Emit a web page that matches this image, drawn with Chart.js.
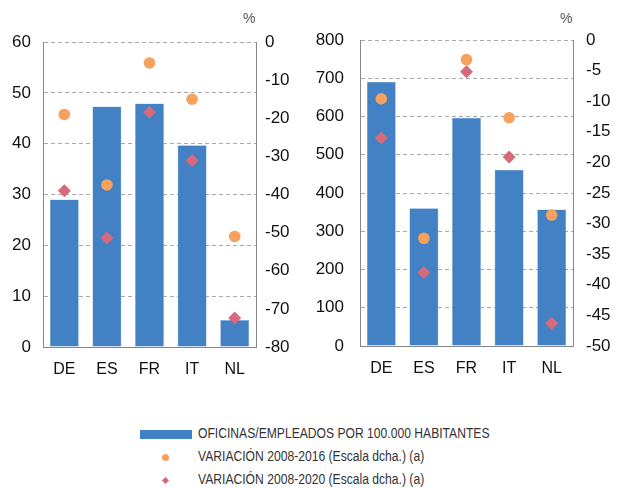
<!DOCTYPE html>
<html>
<head>
<meta charset="utf-8">
<script src="https://cdn.jsdelivr.net/npm/chart.js@4"></script>
<style>
  body { margin: 0; background: #fff; font-family: "Liberation Sans", Arial, sans-serif; }
  #wrap { position: relative; width: 617px; height: 488px; }
  .box { position: absolute; top: 2px; height: 380px; }
  .pct { position: absolute; top: 10px; font-size: 14px; color: #555; }
  #legend { position: absolute; left: 0; top: 420px; width: 617px; font-family: "Liberation Sans", Arial, sans-serif; font-size: 14px; color: #333; }
  .row { position: absolute; left: 140px; height: 20px; }
  .row span.t { position: absolute; left: 58px; top: 2px; white-space: nowrap; transform: scaleX(0.866); transform-origin: 0 50%; }
  .sw { position: absolute; }
</style>
</head>
<body>
<div id="wrap">
  <div class="box" style="left:0;width:300px"><canvas id="c1"></canvas></div>
  <div class="box" style="left:300px;width:317px"><canvas id="c2"></canvas></div>
  <div class="pct" style="left:243px">%</div>
  <div class="pct" style="left:560px">%</div>
  <div id="legend">
    <div class="row" style="top:3px">
      <div class="sw" style="left:0;top:7px;width:52px;height:9px;background:#4281c4"></div>
      <span class="t">OFICINAS/EMPLEADOS POR 100.000 HABITANTES</span>
    </div>
    <div class="row" style="top:26px">
      <div class="sw" style="left:22px;top:8px;width:7px;height:7px;border-radius:50%;background:#f7a15f"></div>
      <span class="t">VARIACIÓN 2008-2016 (Escala dcha.) (a)</span>
    </div>
    <div class="row" style="top:49px">
      <div class="sw" style="left:23px;top:9px;width:5px;height:5px;transform:rotate(45deg);background:#d6697a"></div>
      <span class="t">VARIACIÓN 2008-2020 (Escala dcha.) (a)</span>
    </div>
  </div>
</div>
<script>
const categories = ['DE', 'ES', 'FR', 'IT', 'NL']

// left panel: oficinas por 100.000 habitantes
const oficinas = [29, 47.3, 47.9, 39.7, 5.3]
const oficinasVar2016 = [-19, -37.5, -5.5, -15, -51]
const oficinasVar2020 = [-39, -51.4, -18.4, -31.1, -72.4]

// right panel: empleados por 100.000 habitantes
const empleados = [691, 360, 597, 461, 357]
const empleadosVar2016 = [-9.6, -32.4, -3.2, -12.7, -28.6]
const empleadosVar2020 = [-16, -38, -5.2, -19.1, -46.3]

const BLUE = '#4281c4'
const ORANGE = '#f7a15f'
const PINK = '#d6697a'
const numFont = { family: '"Liberation Sans", Arial, sans-serif', size: 17 }
const catFont = { family: '"Liberation Sans", Arial, sans-serif', size: 16 }

function makeChart(id, bars, var16, var20, cfg) {
  const ctx = document.getElementById(id).getContext('2d')
  return new Chart(ctx, {
    type: 'bar',
    data: {
      labels: categories,
      datasets: [
        { type: 'line', data: var20, yAxisID: 'y2', showLine: false, pointStyle: 'rectRot',
          pointRadius: 6.5, pointBackgroundColor: PINK, pointBorderWidth: 0, order: 1 },
        { type: 'line', data: var16, yAxisID: 'y2', showLine: false, pointStyle: 'circle',
          pointRadius: 5.8, pointBackgroundColor: ORANGE, pointBorderWidth: 0, order: 2 },
        { data: bars, yAxisID: 'y', backgroundColor: BLUE, borderColor: '#8fb3dd', borderWidth: 0.5,
          barPercentage: 0.68, categoryPercentage: 1, order: 3 }
      ]
    },
    options: {
      responsive: true,
      maintainAspectRatio: false,
      animation: false,
      layout: { padding: { top: cfg.top, right: 0, left: 0, bottom: 0 } },
      plugins: { legend: { display: false }, tooltip: { enabled: false } },
      scales: {
        x: {
          grid: { display: false },
          border: { display: true, color: '#888', width: 1 },
          ticks: { color: '#111', font: catFont, padding: 5 },
          afterFit: s => { s.height = cfg.xh }
        },
        y: {
          position: 'left',
          min: 0, max: cfg.yMax,
          ticks: { stepSize: cfg.yStep, color: '#111', font: numFont, padding: cfg.leftPad },
          grid: { color: '#aaa', lineWidth: 1, drawTicks: false },
          border: { display: true, color: '#888', width: 1, dash: [4, 3] },
          afterFit: s => { s.width = cfg.leftW }
        },
        y2: {
          position: 'right',
          min: cfg.y2Min, max: 0,
          ticks: { stepSize: cfg.y2Step, color: '#111', font: numFont, padding: cfg.rightPad },
          grid: { drawOnChartArea: false, drawTicks: false },
          border: { display: true, color: '#888', width: 1 },
          afterFit: s => { s.width = cfg.rightW }
        }
      }
    }
  })
}

makeChart('c1', oficinas, oficinasVar2016, oficinasVar2020,
  { top: 40, xh: 35, yMax: 60, yStep: 10, y2Min: -80, y2Step: 10, leftW: 43, rightW: 44, leftPad: 12, rightPad: 9 })
makeChart('c2', empleados, empleadosVar2016, empleadosVar2020,
  { top: 38, xh: 36, yMax: 800, yStep: 100, y2Min: -50, y2Step: 5, leftW: 60, rightW: 44, leftPad: 16, rightPad: 13 })
</script>
</body>
</html>
